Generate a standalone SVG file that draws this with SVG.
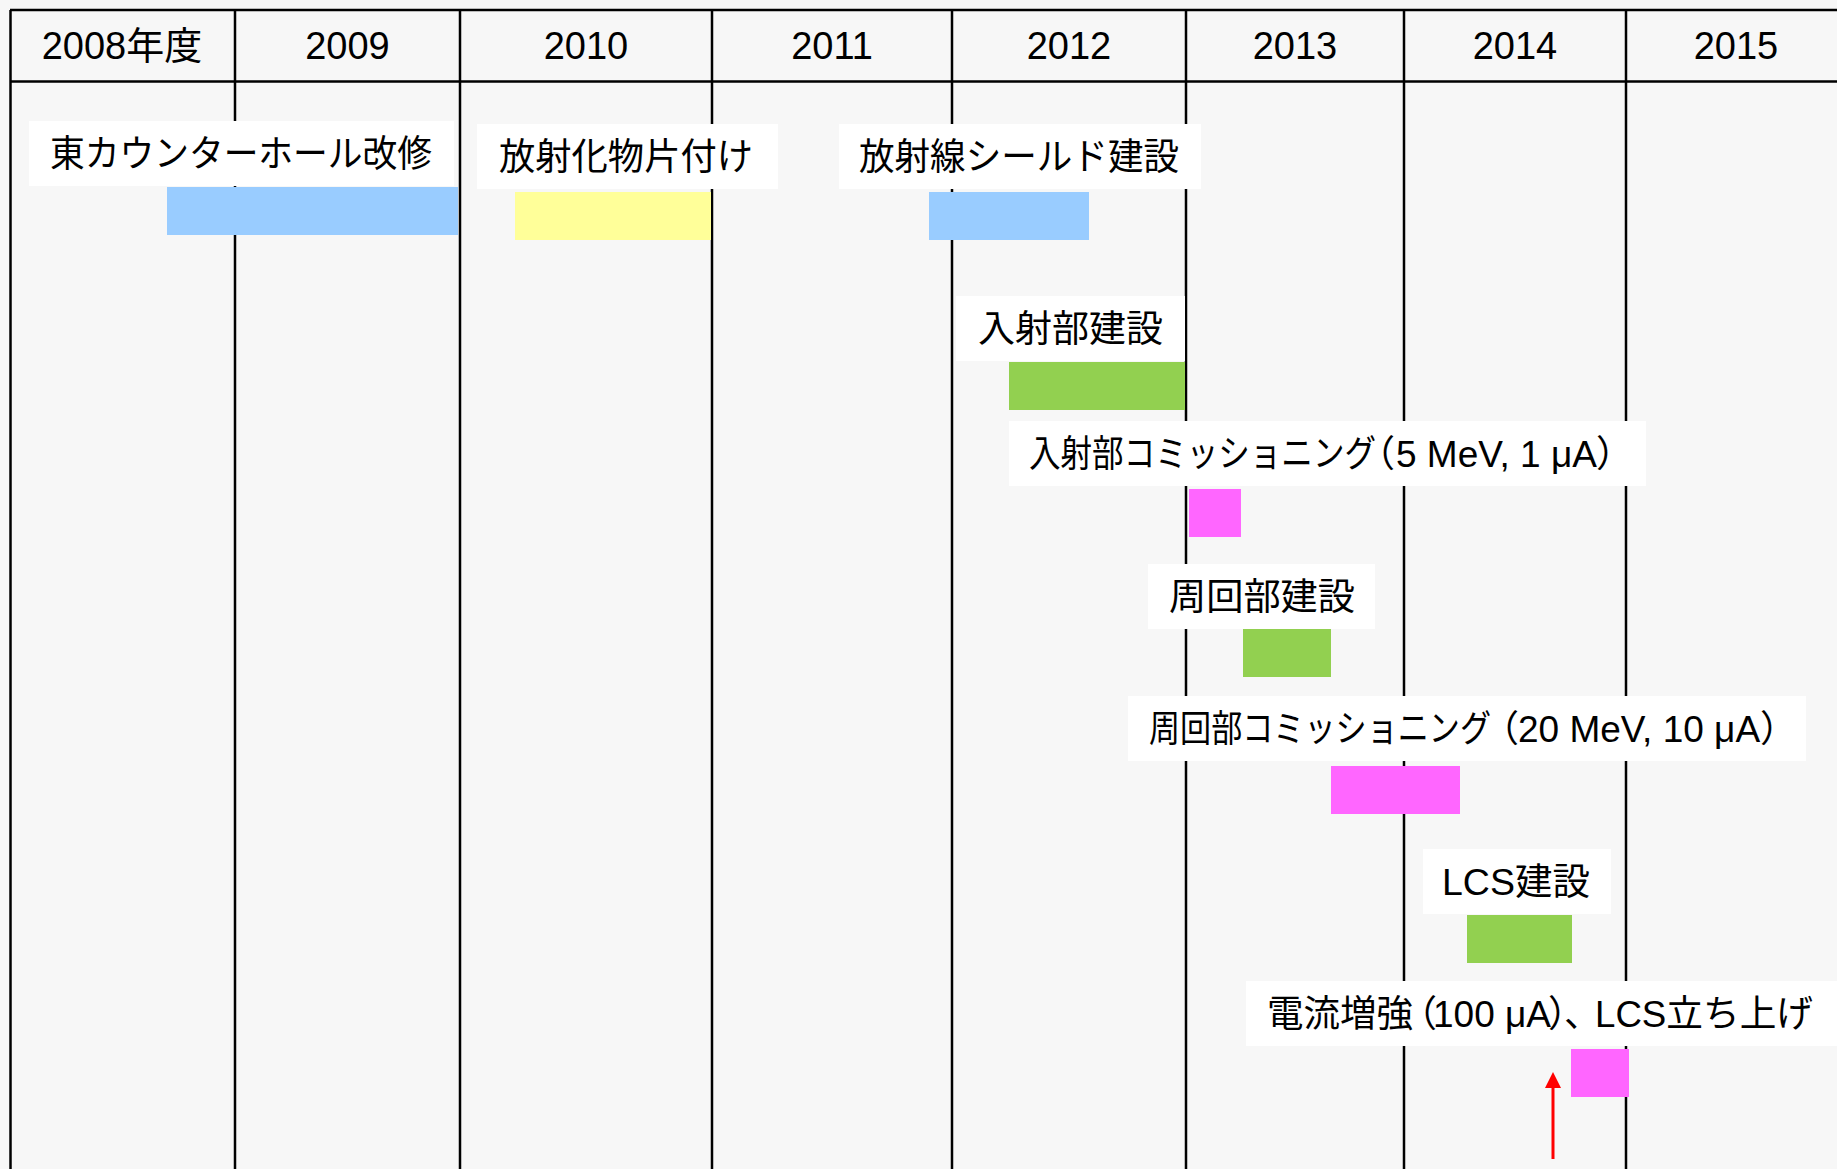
<svg xmlns="http://www.w3.org/2000/svg" width="1837" height="1169" viewBox="0 0 1837 1169">
  <style>
    .grid { stroke: #000; stroke-width: 2.5; fill: none; }
    .year { font-family: "Liberation Sans", "Noto Sans CJK JP", sans-serif; font-size: 38px; fill: #000; text-anchor: middle; }
    .lbl { font-family: "Liberation Sans", "Noto Sans CJK JP", sans-serif; font-size: 37px; fill: #000; }
    .box { fill: #ffffff; }
    .blue { fill: #99ccff; }
    .yellow { fill: #ffff99; }
    .green { fill: #92d050; }
    .pink { fill: #ff66ff; }
    .arrow { stroke: #ff0000; stroke-width: 3; fill: none; }
  </style>
  <rect x="0" y="0" width="1837" height="1169" fill="#f7f7f7"/>

  <g id="grid" class="grid">
    <line x1="10" y1="10" x2="1837" y2="10"/>
    <line x1="10" y1="81.5" x2="1837" y2="81.5"/>
    <line x1="10.5" y1="10" x2="10.5" y2="1169"/>
    <line x1="235" y1="10" x2="235" y2="1169"/>
    <line x1="460" y1="10" x2="460" y2="1169"/>
    <line x1="712" y1="10" x2="712" y2="1169"/>
    <line x1="952" y1="10" x2="952" y2="1169"/>
    <line x1="1186" y1="10" x2="1186" y2="1169"/>
    <line x1="1404" y1="10" x2="1404" y2="1169"/>
    <line x1="1626" y1="10" x2="1626" y2="1169"/>
  </g>

  <g id="header">
    <text class="year" x="122" y="59">2008年度</text>
    <text class="year" x="347.5" y="59">2009</text>
    <text class="year" x="586" y="59">2010</text>
    <text class="year" x="832" y="59">2011</text>
    <text class="year" x="1069" y="59">2012</text>
    <text class="year" x="1295" y="59">2013</text>
    <text class="year" x="1515" y="59">2014</text>
    <text class="year" x="1736" y="59">2015</text>
  </g>

  <g id="task-east-hall">
    <rect class="box" x="29" y="121" width="425" height="65"/>
    <text class="lbl" x="50" y="167" textLength="382" lengthAdjust="spacingAndGlyphs">東カウンターホール改修</text>
    <rect class="blue" x="167" y="187" width="291" height="48"/>
  </g>

  <g id="task-cleanup">
    <rect class="box" x="477" y="124" width="301" height="65"/>
    <text class="lbl" x="499" y="170" textLength="254" lengthAdjust="spacingAndGlyphs">放射化物片付け</text>
    <rect class="yellow" x="515" y="192" width="196" height="48"/>
  </g>

  <g id="task-shield">
    <rect class="box" x="839" y="124" width="362" height="65"/>
    <text class="lbl" x="859" y="170" textLength="320" lengthAdjust="spacingAndGlyphs">放射線シールド建設</text>
    <rect class="blue" x="929" y="192" width="160" height="48"/>
  </g>

  <g id="task-injector-build">
    <rect class="box" x="956" y="296" width="229" height="65"/>
    <text class="lbl" x="978" y="342" textLength="185" lengthAdjust="spacingAndGlyphs">入射部建設</text>
    <rect class="green" x="1009" y="362" width="176" height="48"/>
  </g>

  <g id="task-injector-comm">
    <rect class="box" x="1009" y="421" width="637" height="65"/>
    <text class="lbl" y="467"><tspan x="1029" textLength="347" lengthAdjust="spacingAndGlyphs">入射部コミッショニング</tspan><tspan x="1358">（</tspan><tspan x="1396">5 MeV, 1 μA</tspan><tspan x="1596">）</tspan></text>
    <rect class="pink" x="1189" y="489" width="52" height="48"/>
  </g>

  <g id="task-loop-build">
    <rect class="box" x="1148" y="564" width="227" height="65"/>
    <text class="lbl" x="1169" y="610" textLength="186" lengthAdjust="spacingAndGlyphs">周回部建設</text>
    <rect class="green" x="1243" y="629" width="88" height="48"/>
  </g>

  <g id="task-loop-comm">
    <rect class="box" x="1128" y="696" width="678" height="65"/>
    <text class="lbl" y="742"><tspan x="1149" textLength="342" lengthAdjust="spacingAndGlyphs">周回部コミッショニング</tspan><tspan x="1482">（</tspan><tspan x="1518">20 MeV, 10 μA</tspan><tspan x="1760">）</tspan></text>
    <rect class="pink" x="1331" y="766" width="129" height="48"/>
  </g>

  <g id="task-lcs-build">
    <rect class="box" x="1423" y="849" width="188" height="65"/>
    <text class="lbl" x="1442" y="895" textLength="148" lengthAdjust="spacingAndGlyphs">LCS建設</text>
    <rect class="green" x="1467" y="915" width="105" height="48"/>
  </g>

  <g id="task-current-lcs">
    <rect class="box" x="1246" y="981" width="591" height="65"/>
    <text class="lbl" y="1027"><tspan x="1267" textLength="146" lengthAdjust="spacingAndGlyphs">電流増強</tspan><tspan x="1400">（</tspan><tspan x="1433">100 μA</tspan><tspan x="1548">）</tspan><tspan x="1564">、</tspan><tspan x="1595" textLength="218" lengthAdjust="spacingAndGlyphs">LCS立ち上げ</tspan></text>
    <rect class="pink" x="1571" y="1049" width="58" height="48"/>
  </g>

  <g id="connectors">
    <line class="arrow" x1="1553" y1="1159" x2="1553" y2="1086"/>
    <polygon points="1553,1072 1545,1088 1561,1088" fill="#ff0000"/>
  </g>
</svg>
